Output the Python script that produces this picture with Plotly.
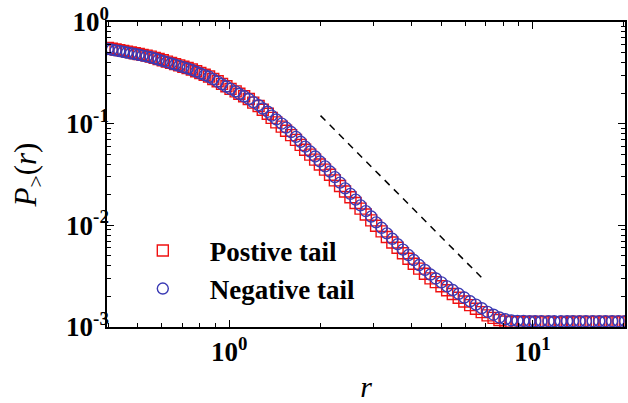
import plotly.graph_objects as go

r_vals = [0.398,0.41,0.422,0.434,0.447,0.46,0.474,0.488,0.503,0.518,0.534,0.551,0.568,0.585,0.604,0.623,0.643,0.663,0.684,0.706,0.729,0.753,0.778,0.803,0.83,0.858,0.886,0.916,0.947,0.979,1.01,1.05,1.08,1.12,1.16,1.2,1.25,1.29,1.34,1.38,1.43,1.49,1.54,1.6,1.66,1.72,1.78,1.85,
          1.92,1.99,2.07,2.15,2.23,2.32,2.41,2.51,2.61,2.71,2.82,2.94,3.05,3.18,3.31,3.45,3.59,3.74,3.9,4.06,4.23,4.42,4.61,4.8,5.01,5.23,5.46,5.71,5.96,6.23,6.51,6.8,7.11,7.44,7.78,8.14,8.52,8.92,9.34,9.78,10.2,10.7,11.3,11.8,12.4,13,13.6,14.3,15,15.8,16.6,17.4,18.3,19.2,20.2]

positive_tail = [0.555,0.546,0.537,0.529,0.52,0.511,0.503,0.493,0.484,0.475,0.467,0.457,0.444,0.432,0.42,0.408,0.396,0.385,0.374,0.363,0.353,0.341,0.328,0.315,0.303,0.291,0.275,0.261,0.246,0.233,0.22,0.208,0.197,0.186,0.175,0.161,0.149,0.137,0.125,0.114,0.103,0.0936,0.0853,0.0772,0.0692,0.0619,0.0554,0.0496,0.0443,0.0396,0.0353,0.0314,0.0277,0.0244,0.0215,0.0189,0.0166,0.0146,0.0128,0.0112,0.00991,0.00873,0.00769,0.00679,0.00601,0.00531,0.00469,0.00419,0.00375,0.00334,0.00301,0.00276,0.00252,0.0023,0.00211,0.00194,0.00178,0.00164,0.00151,0.0014,0.0013,0.00123,0.00117,0.00113,0.00112,0.00112,0.00112,0.00112,0.00112,0.00112,0.00112,0.00111,0.00111,0.00112,0.00112,0.00112,0.00112,0.00112,0.00112,0.00112,0.00112,0.00112,0.00112]

negative_tail = [0.543,0.534,0.526,0.518,0.509,0.501,0.493,0.484,0.476,0.467,0.459,0.45,0.438,0.426,0.414,0.403,0.391,0.381,0.37,0.36,0.349,0.338,0.325,0.312,0.3,0.289,0.274,0.259,0.245,0.232,0.22,0.208,0.196,0.186,0.175,0.163,0.152,0.141,0.131,0.12,0.11,0.1,0.0914,0.0827,0.0742,0.0664,0.0595,0.0532,0.0476,0.0425,0.038,0.0338,0.0298,0.0263,0.0231,0.0204,0.0179,0.0157,0.0138,0.0122,0.0107,0.00946,0.00833,0.00737,0.00652,0.00577,0.0051,0.00456,0.00407,0.00364,0.00328,0.003,0.00275,0.00251,0.00231,0.00212,0.00195,0.00179,0.00166,0.00153,0.00141,0.00132,0.00124,0.00119,0.00116,0.00115,0.00115,0.00114,0.00114,0.00114,0.00114,0.00114,0.00114,0.00114,0.00114,0.00114,0.00114,0.00114,0.00114,0.00114,0.00114,0.00114,0.00114]

guide_r = [2.0, 7.0]
guide_p = [0.12, 0.0028]

x_ticks = [1, 10]
x_tick_text = ["<b>10<sup>0</sup></b>", "<b>10<sup>1</sup></b>"]
y_ticks = [0.001, 0.01, 0.1, 1]
y_tick_text = ["<b>10<sup>-3</sup></b>", "<b>10<sup>-2</sup></b>", "<b>10<sup>-1</sup></b>", "<b>10<sup>0</sup></b>"]
x_minor = [0.4, 0.5, 0.6, 0.7, 0.8, 0.9, 2, 3, 4, 5, 6, 7, 8, 9, 20]
y_minor = [m * d for d in (0.001, 0.01, 0.1) for m in range(2, 10)]

SERIF = "Liberation Serif, Times New Roman, serif"
RED = "#f01010"
BLUE = "#3a3ab4"

fig = go.Figure()
fig.add_trace(go.Scatter(
    x=r_vals, y=positive_tail, mode="markers", name="<b>Postive tail</b>",
    marker=dict(symbol="square-open", size=11, color=RED, line=dict(width=1.4, color=RED)),
    legend="legend"))
fig.add_trace(go.Scatter(
    x=r_vals, y=negative_tail, mode="markers", name="<b>Negative tail</b>",
    marker=dict(symbol="circle-open", size=11, color=BLUE, line=dict(width=1.4, color=BLUE)),
    legend="legend2"))
fig.add_trace(go.Scatter(
    x=guide_r, y=guide_p, mode="lines", showlegend=False,
    line=dict(color="black", width=1.5, dash="7px,6px")))

axis_common = dict(
    type="log", showline=True, linecolor="black", linewidth=1.5, mirror="allticks",
    ticks="inside", ticklen=7, tickwidth=1.2, tickcolor="black", showgrid=False, zeroline=False,
    tickfont=dict(family=SERIF, size=27, color="black"),
)

fig.update_xaxes(
    **axis_common, range=[-0.403, 1.305], tickmode="array", tickvals=x_ticks, ticktext=x_tick_text,
    minor=dict(ticks="inside", ticklen=4, tickwidth=1, tickcolor="black", tickmode="array", tickvals=x_minor, showgrid=False),
    title=dict(text="<i>r</i>", font=dict(family=SERIF, size=30, color="black"), standoff=14),
)
fig.update_yaxes(
    **axis_common, range=[-3, 0], tickmode="array", tickvals=y_ticks, ticktext=y_tick_text,
    ticklabelstandoff=-9,
    minor=dict(ticks="inside", ticklen=4, tickwidth=1, tickcolor="black", tickmode="array", tickvals=y_minor, showgrid=False),
    title=dict(text="<i>P</i><sub>></sub>(<i>r</i>)", font=dict(family=SERIF, size=31, color="black"), standoff=20),
)

legend_common = dict(bgcolor="rgba(0,0,0,0)", borderwidth=0, itemwidth=84,
                     font=dict(family=SERIF, size=27, color="black"),
                     xanchor="left", yanchor="middle", xref="paper", yref="paper")
fig.update_layout(
    width=628, height=403,
    margin=dict(l=107, r=1, t=22, b=76),
    paper_bgcolor="white", plot_bgcolor="white",
    legend=dict(**legend_common, x=0.017, y=(327 - 251) / 305),
    legend2=dict(**legend_common, x=0.017, y=(327 - 289) / 305),
)

fig.write_html("out.html")
